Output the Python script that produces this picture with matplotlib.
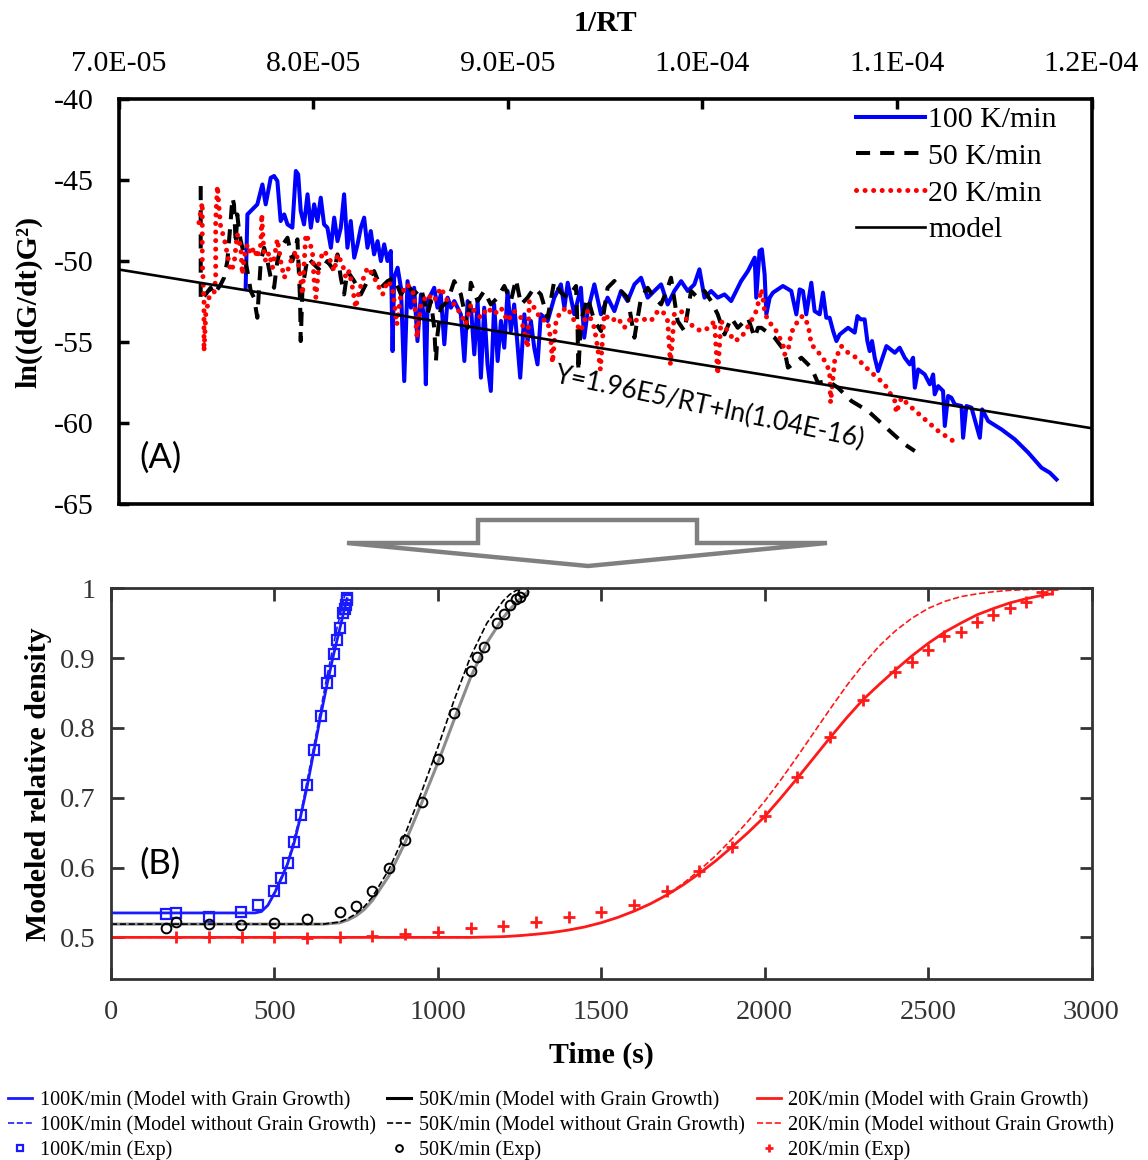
import matplotlib
matplotlib.use("Agg")
import matplotlib.pyplot as plt
import numpy as np
from matplotlib.patches import Polygon
from matplotlib.ticker import FuncFormatter

plt.rcParams['axes.unicode_minus'] = False
plt.rcParams['font.family'] = ['Liberation Serif', 'DejaVu Serif']

# ---- panel A data (1/RT in units of 1e-5, ln((dG/dt)G^2)) ----
x_100 = [7.653, 7.662, 7.713, 7.739, 7.756, 7.782, 7.799, 7.816, 7.833, 7.851, 7.868, 7.893, 7.911, 7.923,
         7.936, 7.953, 7.971, 7.988, 8.005, 8.022, 8.039, 8.056, 8.073, 8.091, 8.108, 8.125, 8.142, 8.159,
         8.176, 8.193, 8.211, 8.228, 8.245, 8.262, 8.279, 8.296, 8.313, 8.331, 8.348, 8.365, 8.382, 8.399,
         8.408, 8.416, 8.434, 8.451, 8.468, 8.485, 8.502, 8.519, 8.536, 8.554, 8.571, 8.579, 8.588, 8.622,
         8.639, 8.656, 8.674, 8.691, 8.708, 8.725, 8.759, 8.777, 8.794, 8.811, 8.828, 8.845, 8.862, 8.879,
         8.896, 8.913, 8.930, 8.948, 8.965, 8.982, 8.999, 9.016, 9.033, 9.064, 9.085, 9.102, 9.119, 9.136,
         9.153, 9.170, 9.205, 9.239, 9.273, 9.291, 9.308, 9.342, 9.376, 9.393, 9.411, 9.445, 9.479, 9.513,
         9.548, 9.582, 9.616, 9.651, 9.685, 9.719, 9.753, 9.788, 9.822, 9.856, 9.891, 9.925, 9.959, 9.985,
         10.011, 10.045, 10.079, 10.114, 10.148, 10.199, 10.234, 10.269, 10.277, 10.294, 10.306, 10.320,
         10.329, 10.346, 10.363, 10.414, 10.457, 10.483, 10.500, 10.517, 10.534, 10.560, 10.577, 10.603,
         10.620, 10.637, 10.654, 10.672, 10.689, 10.706, 10.749, 10.783, 10.797, 10.814, 10.834, 10.848,
         10.860, 10.872, 10.886, 10.903, 10.946, 10.989, 11.014, 11.040, 11.066, 11.083, 11.092, 11.109,
         11.143, 11.169, 11.186, 11.194, 11.212, 11.237, 11.246, 11.263, 11.280, 11.297, 11.332, 11.340,
         11.357, 11.383, 11.426, 11.438, 11.469, 11.537, 11.606, 11.675, 11.743, 11.786, 11.820]
y_100 = [-51.65, -47.12, -46.50, -45.27, -46.50, -44.86, -44.75, -45.06, -47.53, -47.12, -47.74, -47.94, -44.44, -44.65,
         -46.91, -47.74, -45.88, -47.94, -46.50, -47.53, -46.09, -47.74, -47.94, -49.18, -47.32, -48.77, -47.94, -45.88,
         -49.18, -47.53, -49.79, -48.97, -47.94, -47.32, -49.18, -48.15, -49.59, -48.77, -50.00, -48.97, -50.00, -49.38,
         -55.56, -51.03, -50.41, -51.65, -57.41, -51.24, -52.88, -51.65, -54.94, -52.06, -53.70, -57.61, -52.47, -51.65,
         -52.88, -52.06, -55.14, -52.26, -52.88, -52.47, -53.29, -56.17, -52.47, -52.88, -55.76, -52.47, -57.20, -52.88,
         -56.38, -58.02, -52.68, -56.17, -53.70, -55.35, -51.85, -54.32, -52.68, -57.20, -53.29, -54.94, -53.70, -55.35,
         -56.38, -53.29, -53.70, -52.26, -51.44, -52.88, -51.34, -53.29, -51.65, -54.73, -53.09, -51.44, -53.29, -52.26,
         -53.09, -51.85, -52.47, -51.44, -51.03, -52.26, -51.85, -51.44, -52.68, -51.85, -51.24, -51.85, -51.44, -50.51,
         -52.26, -51.85, -52.26, -52.06, -52.47, -51.24, -50.62, -49.79, -52.26, -49.38, -49.28, -50.82,
         -53.29, -52.26, -51.95, -51.54, -51.85, -53.29, -51.75, -51.85, -53.29, -51.34, -53.09, -53.29,
         -51.95, -53.50, -53.50, -54.32, -54.94, -54.53, -54.12, -54.42, -53.40, -53.60, -53.60, -54.94,
         -55.56, -54.94, -55.97, -56.79, -55.25, -55.66, -55.35, -55.97, -56.38, -55.97, -57.82, -56.69,
         -57.00, -57.61, -57.00, -58.23, -57.72, -58.02, -60.18, -58.33, -58.44, -58.85, -58.95, -60.91,
         -58.95, -59.05, -60.91, -59.16, -59.88, -60.39, -61.01, -61.83, -62.76, -63.07, -63.48]

x_50 = [7.422, 7.422, 7.473, 7.490, 7.525, 7.542, 7.559, 7.576, 7.585, 7.593, 7.602, 7.610, 7.619, 7.628,
        7.645, 7.662, 7.679, 7.696, 7.713, 7.722, 7.731, 7.748, 7.765, 7.782, 7.799, 7.816, 7.833, 7.868,
        7.893, 7.919, 7.933, 7.936, 7.945, 7.971, 8.005, 8.039, 8.073, 8.108, 8.125, 8.142, 8.159, 8.176,
        8.211, 8.245, 8.279, 8.313, 8.348, 8.382, 8.416, 8.451, 8.485, 8.519, 8.554, 8.588, 8.605, 8.622,
        8.631, 8.639, 8.656, 8.691, 8.725, 8.759, 8.794, 8.810, 8.845, 8.879, 8.913, 8.948, 8.982, 9.016,
        9.042, 9.068, 9.102, 9.136, 9.170, 9.205, 9.239, 9.273, 9.308, 9.351, 9.359, 9.363, 9.376, 9.411,
        9.445, 9.479, 9.513, 9.548, 9.582, 9.616, 9.651, 9.685, 9.719, 9.753, 9.788, 9.822, 9.839, 9.873,
        9.908, 9.942, 9.976, 10.011, 10.045, 10.079, 10.114, 10.148, 10.182, 10.234, 10.269, 10.286, 10.303,
        10.371, 10.423, 10.440, 10.509, 10.560, 10.594, 10.646, 10.697, 10.766, 10.852, 10.954, 11.040, 11.092]
y_50 = [-45.37, -52.47, -51.65, -52.06, -51.44, -51.03, -50.00, -47.53, -46.09, -46.50, -48.97, -47.12, -48.15, -48.77,
        -49.59, -50.62, -51.85, -52.26, -53.50, -51.65, -50.00, -49.18, -50.00, -51.03, -51.65, -50.00, -49.18, -48.56,
        -50.00, -48.66, -52.47, -54.94, -51.65, -49.79, -50.21, -50.62, -50.00, -50.62, -49.59, -51.03, -52.06, -50.62,
        -51.24, -52.06, -51.24, -50.62, -51.65, -51.24, -51.03, -52.06, -51.44, -52.06, -51.65, -53.29, -52.47, -54.12,
        -56.17, -54.53, -52.88, -52.47, -51.24, -52.06, -54.12, -51.34, -52.47, -51.85, -52.68, -52.26, -51.54, -52.47,
        -51.13, -52.68, -52.26, -51.65, -52.06, -53.50, -51.23, -51.95, -52.26, -51.54, -54.32, -56.79, -53.70, -52.26,
        -53.70, -54.32, -51.65, -51.23, -51.85, -52.26, -54.73, -52.26, -51.65, -52.26, -52.68, -51.65, -51.03, -53.70,
        -54.32, -51.85, -52.26, -51.85, -52.47, -53.29, -54.53, -53.50, -54.12, -53.50, -54.73, -54.12, -54.12,
        -54.73, -55.56, -56.58, -55.97, -56.58, -57.51, -57.41, -57.82, -58.64, -59.26, -60.39, -61.32, -61.73]

x_20 = [7.413, 7.430, 7.430, 7.439, 7.439, 7.448, 7.465, 7.490, 7.499, 7.499, 7.508, 7.516, 7.525, 7.542,
        7.559, 7.576, 7.593, 7.610, 7.628, 7.636, 7.645, 7.662, 7.679, 7.696, 7.713, 7.731, 7.736, 7.739,
        7.748, 7.756, 7.773, 7.791, 7.816, 7.833, 7.851, 7.868, 7.885, 7.911, 7.928, 7.945, 7.962, 7.979,
        7.996, 8.005, 8.014, 8.031, 8.056, 8.082, 8.108, 8.125, 8.151, 8.168, 8.185, 8.202, 8.219, 8.236,
        8.253, 8.279, 8.305, 8.331, 8.357, 8.382, 8.408, 8.430, 8.451, 8.485, 8.519, 8.533, 8.554, 8.588,
        8.622, 8.656, 8.691, 8.725, 8.759, 8.785, 8.811, 8.828, 8.862, 8.896, 8.930, 8.965, 8.999, 9.033,
        9.068, 9.102, 9.111, 9.136, 9.170, 9.205, 9.222, 9.230, 9.248, 9.273, 9.308, 9.342, 9.376, 9.411,
        9.445, 9.462, 9.476, 9.496, 9.531, 9.565, 9.599, 9.634, 9.668, 9.702, 9.736, 9.771, 9.796, 9.822,
        9.836, 9.856, 9.891, 9.925, 9.959, 9.994, 10.036, 10.062, 10.079, 10.096, 10.131, 10.165, 10.200,
        10.251, 10.277, 10.294, 10.303, 10.311, 10.320, 10.337, 10.371, 10.414, 10.423, 10.440, 10.457,
        10.500, 10.517, 10.543, 10.560, 10.620, 10.654, 10.659, 10.680, 10.714, 10.749, 10.792, 10.860,
        10.937, 10.989, 10.997, 11.023, 11.057, 11.134, 11.212, 11.289]
y_20 = [-47.63, -46.40, -50.00, -52.47, -55.56, -53.29, -52.26, -52.06, -51.03, -47.53, -45.37, -46.71, -47.94, -48.56,
        -49.59, -50.62, -50.21, -48.35, -49.18, -50.82, -49.79, -48.97, -49.59, -49.18, -49.79, -48.97, -47.12, -47.94,
        -49.59, -50.00, -49.49, -50.41, -48.66, -50.00, -51.03, -50.62, -50.00, -49.38, -50.41, -52.06, -48.35, -48.77,
        -49.38, -51.24, -52.26, -50.00, -49.38, -49.79, -50.62, -49.59, -50.21, -51.03, -50.62, -51.65, -52.88, -51.85,
        -51.24, -50.41, -50.82, -51.44, -52.06, -51.24, -51.65, -53.91, -52.06, -51.44, -52.06, -54.73, -52.67, -52.06,
        -52.47, -51.65, -52.47, -52.67, -53.29, -53.91, -52.67, -53.09, -53.50, -52.88, -53.29, -52.88, -53.70, -53.09,
        -53.50, -55.35, -52.47, -52.88, -53.60, -53.70, -54.94, -56.28, -53.70, -53.09, -52.88, -53.70, -54.32, -53.09,
        -54.12, -55.35, -56.69, -53.29, -53.70, -53.50, -54.12, -53.50, -53.70, -53.60, -53.70, -53.09, -53.09, -53.70,
        -56.38, -53.29, -53.09, -53.70, -54.12, -54.32, -54.12, -53.70, -57.00, -53.70, -54.32, -54.94, -54.73,
        -53.70, -53.09, -52.26, -51.75, -52.26, -53.09, -53.70, -54.12, -55.14, -55.76, -55.56, -54.42,
        -53.50, -53.40, -53.91, -55.14, -55.97, -56.79, -58.74, -56.17, -55.25, -55.66, -55.97, -56.79,
        -57.61, -58.64, -59.36, -58.44, -58.85, -59.67, -60.49, -61.11]

# model: Y = 1.96E5/RT + ln(1.04E-16), end points of the fitted line
x_model = [7.0, 12.0]
y_model = [-50.52, -60.32]

# ---- panel B data (time in s, modeled relative density) ----
t_100_gg = [0, 300, 440, 460, 480, 500, 520, 540, 560, 580, 600, 620, 640, 660, 680, 700, 710, 722]
d_100_gg = [0.535, 0.535, 0.535, 0.537, 0.546, 0.563, 0.583, 0.605, 0.635, 0.673, 0.716, 0.765, 0.814, 0.860,
            0.903, 0.942, 0.962, 0.985]
t_100_no = [0, 300, 440, 460, 480, 500, 540, 580, 620, 660, 690, 705, 715, 720]
d_100_no = [0.535, 0.535, 0.535, 0.537, 0.546, 0.565, 0.606, 0.676, 0.772, 0.872, 0.940, 0.970, 0.990, 0.995]
t_100_exp = [167, 200, 299, 399, 450, 499, 520, 540, 560, 581, 600, 620, 641, 661, 671, 681, 690, 700, 711, 716,
             719, 722, 723]
d_100_exp = [0.534, 0.535, 0.529, 0.536, 0.547, 0.567, 0.585, 0.606, 0.637, 0.675, 0.718, 0.768, 0.817, 0.864,
             0.882, 0.906, 0.926, 0.943, 0.964, 0.970, 0.976, 0.983, 0.986]

t_50_gg = [0, 650, 700, 725, 750, 775, 800, 850, 900, 950, 1000, 1050, 1100, 1150, 1200, 1225, 1250, 1275]
d_50_gg = [0.519, 0.519, 0.521, 0.525, 0.531, 0.540, 0.553, 0.588, 0.636, 0.692, 0.750, 0.812, 0.872, 0.922,
           0.958, 0.972, 0.984, 0.995]
t_50_no = [0, 650, 700, 725, 750, 775, 800, 850, 900, 950, 1000, 1050, 1100, 1150, 1200, 1220, 1240, 1260]
d_50_no = [0.519, 0.519, 0.522, 0.527, 0.534, 0.544, 0.558, 0.597, 0.648, 0.708, 0.772, 0.840, 0.902, 0.950,
           0.982, 0.991, 0.997, 1.0]
t_50_exp = [167, 200, 299, 399, 499, 601, 701, 751, 800, 851, 900, 951, 1000, 1050, 1101, 1121, 1142, 1182, 1201,
            1221, 1238, 1250, 1262]
d_50_exp = [0.514, 0.5215, 0.519, 0.518, 0.5205, 0.526, 0.536, 0.545, 0.567, 0.600, 0.639, 0.694, 0.756, 0.821,
            0.882, 0.901, 0.916, 0.950, 0.963, 0.976, 0.984, 0.988, 0.994]

t_20_gg = [0, 1100, 1150, 1200, 1250, 1300, 1350, 1400, 1450, 1500, 1550, 1600, 1650, 1700, 1750, 1800, 1850,
           1900, 1950, 2000, 2050, 2100, 2150, 2200, 2250, 2300, 2350, 2400, 2450, 2500, 2550, 2600, 2650, 2700,
           2750, 2800, 2850, 2880]
d_20_gg = [0.5, 0.5, 0.5005, 0.501, 0.5025, 0.5045, 0.507, 0.5105, 0.515, 0.521, 0.5285, 0.5375, 0.548, 0.5605,
           0.575, 0.5915, 0.6095, 0.6295, 0.6505, 0.673, 0.700, 0.728, 0.757, 0.786, 0.814, 0.840, 0.862, 0.883,
           0.903, 0.921, 0.937, 0.950, 0.962, 0.971, 0.979, 0.985, 0.990, 0.992]
t_20_no = [0, 1100, 1150, 1200, 1250, 1300, 1350, 1400, 1450, 1500, 1550, 1600, 1650, 1700, 1750, 1800, 1850,
           1900, 1950, 2000, 2050, 2100, 2150, 2200, 2250, 2300, 2350, 2400, 2450, 2500, 2550, 2600, 2650, 2700,
           2750, 2800, 2850, 2880]
d_20_no = [0.5, 0.5, 0.5005, 0.501, 0.5025, 0.5045, 0.507, 0.5105, 0.515, 0.521, 0.5285, 0.5375, 0.548, 0.561,
           0.577, 0.596, 0.617, 0.641, 0.667, 0.695, 0.726, 0.759, 0.793, 0.827, 0.860, 0.890, 0.917, 0.939,
           0.957, 0.971, 0.981, 0.988, 0.992, 0.995, 0.997, 0.998, 0.999, 1.0]
t_20_exp = [200, 300, 400, 500, 600, 700, 800, 900, 1000, 1100, 1200, 1300, 1400, 1500, 1600, 1700, 1800, 1900,
            2000, 2100, 2200, 2300, 2400, 2450, 2500, 2550, 2600, 2650, 2700, 2750, 2800, 2850, 2880]
d_20_exp = [0.5, 0.5, 0.5, 0.5, 0.499, 0.5, 0.502, 0.505, 0.507, 0.514, 0.517, 0.522, 0.529, 0.537, 0.546, 0.567,
            0.595, 0.629, 0.674, 0.730, 0.787, 0.840, 0.880, 0.895, 0.911, 0.932, 0.938, 0.952, 0.961, 0.971,
            0.980, 0.995, 0.999]

fig = plt.figure(figsize=(11.48, 11.6), dpi=100)

# ================= panel A =================
ax1 = fig.add_axes([0.1033, 0.5655, 0.8475, 0.3491])
sc = 1e-5
ax1.plot(np.array(x_100) * sc, y_100, color='#0000ff', lw=2.9, label='100 K/min', zorder=2)
ax1.plot(np.array(x_50) * sc, y_50, color='black', lw=2.9, dashes=(3.5, 2.5), label='50 K/min', zorder=3)
ax1.plot(np.array(x_20) * sc, y_20, color='#ff0000', lw=3.6, linestyle=(0, (0.01, 1.7)),
         dash_capstyle='round', label='20 K/min', zorder=4)
ax1.plot(np.array(x_model) * sc, y_model, color='black', lw=1.9, label='model', zorder=5)

ax1.set_xlim(7e-5, 1.2e-4)
ax1.set_ylim(-65, -40)
ax1.set_xticks(np.arange(7, 12.01, 1) * sc)
ax1.set_yticks(np.arange(-65, -39, 5))
ax1.xaxis.set_major_formatter(FuncFormatter(lambda v, p: f"{v:.1E}"))
ax1.xaxis.tick_top()
ax1.xaxis.set_label_position('top')
ax1.tick_params(axis='x', direction='in', length=7, width=2.5, labelsize=21.5, pad=16,
                top=True, bottom=False)
ax1.tick_params(axis='y', direction='in', length=7, width=2.5, labelsize=21.5, pad=18,
                left=True, right=False)
for s in ax1.spines.values():
    s.set_linewidth(2.6)
ax1.set_xlabel('1/RT', fontsize=21.5, fontweight='bold', labelpad=14)
ax1.set_ylabel('ln((dG/dt)G²)', fontsize=21.5, fontweight='bold', labelpad=8)

ax1.text(1.0039e-4, -59.05, 'Y=1.96E5/RT+ln(1.04E-16)', family=['Lato', 'DejaVu Sans'], fontsize=19,
         rotation=-12, ha='center', va='center', rotation_mode='anchor')
ax1.text(7.213e-5, -62.16, '(A)', family=['Lato', 'DejaVu Sans'], fontsize=25, ha='center', va='center')

ax1.legend(loc='upper left', bbox_to_anchor=(0.755, 0.99), frameon=False, fontsize=21.5,
           handlelength=2.3, handletextpad=0.12, labelspacing=0.33, borderpad=0.1, borderaxespad=0)

# ================= arrow between panels =================
W, H = 1148.0, 1160.0
arrow_px = [(347, 543), (478, 543), (478, 520), (697, 520), (697, 543), (827, 543), (588, 566)]
fig.patches.append(Polygon([(x / W, 1 - y / H) for x, y in arrow_px], closed=True, fill=False,
                           edgecolor='#808080', lw=3.2, joinstyle='miter', transform=fig.transFigure))

# ================= panel B =================
ax2 = fig.add_axes([0.0967, 0.1558, 0.8541, 0.3371])
h = []
h += ax2.plot(t_100_gg, d_100_gg, color='#1a1aff', lw=2.0, label='100K/min (Model with Grain Growth)')
h += ax2.plot(t_100_no, d_100_no, color='#1a1aff', lw=1.2, ls='--', label='100K/min (Model without Grain Growth)')
h += ax2.plot(t_100_exp, d_100_exp, ls='none', marker='s', ms=7, mfc='none', mec='#1a1aff', mew=1.6,
              label='100K/min (Exp)')
h += ax2.plot(t_50_gg, d_50_gg, color='#8c8c8c', lw=2.2, label='50K/min (Model with Grain Growth)')
h += ax2.plot(t_50_no, d_50_no, color='black', lw=1.2, ls='--', label='50K/min (Model without Grain Growth)')
h += ax2.plot(t_50_exp, d_50_exp, ls='none', marker='o', ms=7, mfc='none', mec='black', mew=1.4,
              label='50K/min (Exp)')
h += ax2.plot(t_20_gg, d_20_gg, color='#ff1a1a', lw=2.0, label='20K/min (Model with Grain Growth)')
h += ax2.plot(t_20_no, d_20_no, color='#ff1a1a', lw=1.2, ls='--', label='20K/min (Model without Grain Growth)')
h += ax2.plot(t_20_exp, d_20_exp, ls='none', marker='+', ms=8, mec='#ff1a1a', mew=2.0,
              label='20K/min (Exp)')

ax2.set_xlim(0, 3000)
ax2.set_ylim(0.44, 1.0)
ax2.set_xticks(np.arange(0, 3001, 500))
ax2.set_yticks([0.5, 0.6, 0.7, 0.8, 0.9, 1.0])
ax2.yaxis.set_major_formatter(FuncFormatter(lambda v, p: '1' if abs(v - 1) < 1e-9 else f"{v:.1f}"))
ax2.tick_params(direction='in', length=9, width=2, labelsize=20.5, colors='#333333',
                top=True, right=True)
ax2.tick_params(axis='x', pad=15)
ax2.tick_params(axis='y', pad=11)
for s in ax2.spines.values():
    s.set_linewidth(2)
    s.set_color('#333333')
ax2.set_xlabel('Time (s)', fontsize=21.5, fontweight='bold', labelpad=12)
ax2.set_ylabel('Modeled relative density', fontsize=21.5, fontweight='bold', labelpad=6)
ax2.text(150, 0.605, '(B)', family=['Lato', 'DejaVu Sans'], fontsize=25, ha='center', va='center')

leg = fig.legend(handles=h, loc='upper left', bbox_to_anchor=(-0.002, 0.068), ncol=3, frameon=False,
                 fontsize=14.5, handlelength=1.2, handletextpad=0.38, columnspacing=0.58,
                 labelspacing=0.27, borderpad=0, markerscale=0.7)
leg.legend_handles[3].set_color('black')

fig.savefig('out.png', dpi=100)
